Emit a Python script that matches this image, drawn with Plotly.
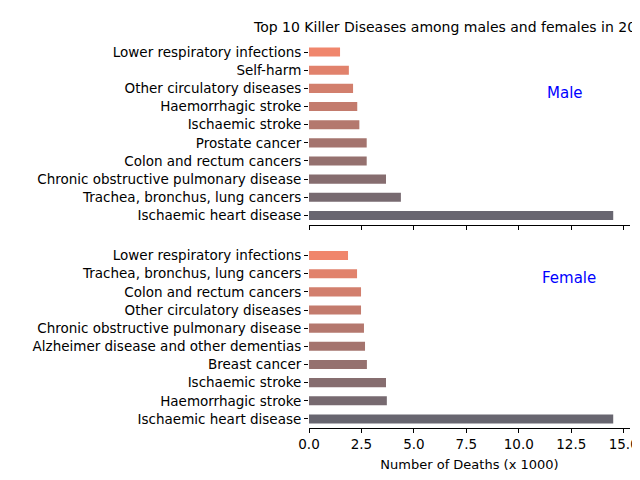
import plotly.graph_objs as go
from plotly.subplots import make_subplots

# values (thousands of deaths), listed bottom -> top
male_causes = ["Ischaemic heart disease", "Trachea, bronchus, lung cancers",
               "Chronic obstructive pulmonary disease", "Colon and rectum cancers",
               "Prostate cancer", "Ischaemic stroke", "Haemorrhagic stroke",
               "Other circulatory diseases", "Self-harm", "Lower respiratory infections"]
male_deaths = [14.5, 4.38, 3.67, 2.75, 2.75, 2.4, 2.3, 2.1, 1.9, 1.48]

female_causes = ["Ischaemic heart disease", "Haemorrhagic stroke", "Ischaemic stroke",
                 "Breast cancer", "Alzheimer disease and other dementias",
                 "Chronic obstructive pulmonary disease", "Other circulatory diseases",
                 "Colon and rectum cancers", "Trachea, bronchus, lung cancers",
                 "Lower respiratory infections"]
female_deaths = [14.5, 3.71, 3.67, 2.76, 2.67, 2.62, 2.48, 2.48, 2.29, 1.86]


def palette(n):
    # dark grey -> salmon
    a, b = (104, 102, 112), (240, 134, 108)
    return ["rgb(%d,%d,%d)" % tuple(round(a[k] + (b[k] - a[k]) * i / (n - 1)) for k in range(3))
            for i in range(n)]


fig = make_subplots(rows=2, cols=1, shared_xaxes=True, vertical_spacing=0.057)
fig.add_trace(go.Bar(x=male_deaths, y=male_causes, orientation="h", width=0.5,
                     marker=dict(color=palette(10), line_width=0)), row=1, col=1)
fig.add_trace(go.Bar(x=female_deaths, y=female_causes, orientation="h", width=0.5,
                     marker=dict(color=palette(10), line_width=0)), row=2, col=1)

xa = dict(range=[0, 15.3], showgrid=False, zeroline=False, showline=True, linecolor="black",
          ticks="outside", ticklen=4, tickcolor="black", dtick=2.5, tickformat=".1f",
          automargin=False)
fig.update_xaxes(**xa)
fig.update_xaxes(title_text="Number of Deaths (x 1000)", title_font_size=13,
                 title_standoff=8, row=2, col=1)
fig.update_yaxes(showgrid=False, zeroline=False, showline=False, ticks="outside",
                 ticklen=4, tickcolor="black", range=[-0.5, 9.5], automargin=False)

fig.add_annotation(x=0.86, y=0.9, xref="paper", yref="paper", text="Male",
                   showarrow=False, font=dict(color="blue", size=15))
fig.add_annotation(x=0.9, y=0.39, xref="paper", yref="paper", text="Female",
                   showarrow=False, font=dict(color="blue", size=15))
fig.add_annotation(x=-0.18, y=1.0, xref="paper", yref="paper", xanchor="left", yanchor="bottom",
                   yshift=6, text="Top 10 Killer Diseases among males and females in 2016",
                   showarrow=False, font=dict(size=14))

fig.update_layout(width=640, height=480, showlegend=False, plot_bgcolor="white",
                  paper_bgcolor="white", bargap=0.5,
                  margin=dict(l=301, r=18, t=35, b=60),
                  font=dict(family="DejaVu Sans", size=13.5, color="black"))
fig.write_html("out.html")
